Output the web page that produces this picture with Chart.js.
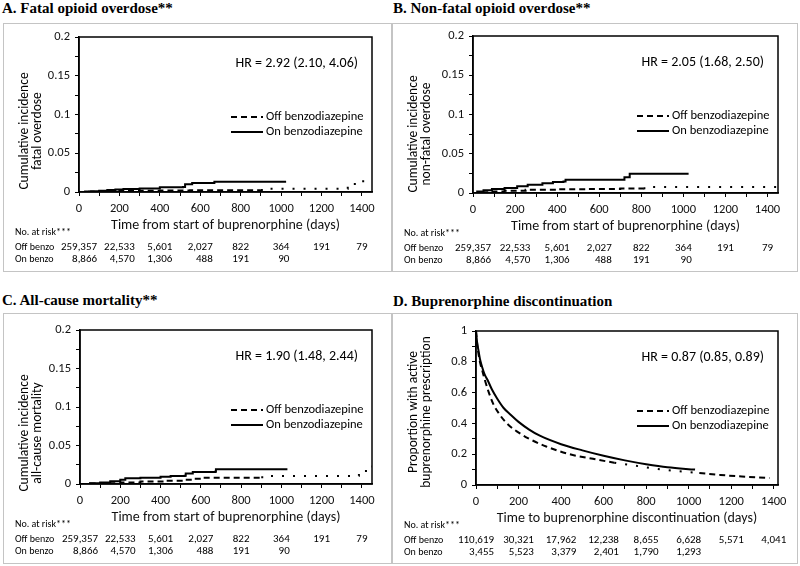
<!DOCTYPE html>
<html>
<head>
<meta charset="utf-8">
<script src="https://cdn.jsdelivr.net/npm/chart.js@4.4.1/dist/chart.umd.min.js"></script>
<style>
  body { margin: 0; background: #fff; }
  #page { position: relative; width: 800px; height: 566px; overflow: hidden; }
  .ttl { position: absolute; font-family: "Liberation Serif", "Times New Roman", serif; font-weight: bold; font-size: 15px; color: #000; white-space: nowrap; line-height: 18px; }
  .frame { position: absolute; border: 1px solid #c4c4c4; box-sizing: border-box; pointer-events: none; }
  canvas { position: absolute; }
</style>
</head>
<body>
<div id="page">
  <div class="ttl" style="left:2px;top:-1px">A. Fatal opioid overdose**</div>
  <div class="ttl" style="left:393px;top:-1px">B. Non-fatal opioid overdose**</div>
  <div class="ttl" style="left:2px;top:291px">C. All-cause mortality**</div>
  <div class="ttl" style="left:393px;top:292px">D. Buprenorphine discontinuation</div>
  <canvas id="cA"></canvas>
  <canvas id="cB"></canvas>
  <canvas id="cC"></canvas>
  <canvas id="cD"></canvas>
</div>
<script>
// ====================== DATA ======================
const riskDays = [0, 200, 400, 600, 800, 1000, 1200, 1400];

// A. Fatal opioid overdose (cumulative incidence, step curves)
const fatalOffDays = [0, 50, 100, 200, 300, 400, 550, 900, 940, 1320, 1330, 1365, 1450];
const fatalOffInc  = [0, 0.0004, 0.0008, 0.0013, 0.0017, 0.002, 0.0024, 0.0026, 0.0043, 0.0043, 0.007, 0.0138, 0.0138];
const fatalOnDays  = [0, 30, 60, 100, 140, 180, 220, 300, 400, 515, 525, 560, 670, 1025];
const fatalOnInc   = [0, 0.0005, 0.001, 0.0017, 0.0025, 0.0032, 0.0039, 0.0045, 0.006, 0.0065, 0.0099, 0.0116, 0.0133, 0.0133];

// B. Non-fatal opioid overdose
const nonfatalOffDays = [0, 30, 80, 150, 250, 400, 550, 700, 810, 825, 1450];
const nonfatalOffInc  = [0, 0.001, 0.002, 0.003, 0.004, 0.0048, 0.0052, 0.0058, 0.0062, 0.0078, 0.0082];
const nonfatalOnDays  = [0, 20, 50, 90, 150, 210, 260, 330, 380, 430, 440, 715, 720, 745, 1025];
const nonfatalOnInc   = [0, 0.002, 0.0035, 0.005, 0.0065, 0.0085, 0.0105, 0.0125, 0.014, 0.0145, 0.017, 0.017, 0.02, 0.0245, 0.0245];

// C. All-cause mortality
const deathOffDays = [0, 50, 100, 200, 300, 420, 520, 560, 600, 900, 920, 1370, 1385, 1420, 1450];
const deathOffInc  = [0, 0.0005, 0.001, 0.002, 0.0032, 0.0043, 0.0055, 0.0068, 0.0082, 0.0088, 0.0104, 0.0108, 0.0148, 0.0226, 0.0226];
const deathOnDays  = [0, 50, 100, 150, 200, 225, 300, 400, 450, 520, 525, 560, 670, 675, 1030];
const deathOnInc   = [0, 0.001, 0.002, 0.0035, 0.0055, 0.0075, 0.008, 0.0095, 0.0105, 0.0108, 0.0135, 0.0155, 0.0158, 0.019, 0.019];

// D. Buprenorphine discontinuation (proportion still on prescription)
const discOffDays = [0, 5, 12, 20, 30, 42, 58, 80, 110, 145, 190, 250, 330, 440, 550, 650, 750, 850, 950, 1050, 1150, 1250, 1380];
const discOffProp = [1, 0.92, 0.85, 0.79, 0.74, 0.68, 0.61, 0.53, 0.46, 0.4, 0.35, 0.3, 0.25, 0.2, 0.17, 0.145, 0.125, 0.105, 0.09, 0.078, 0.065, 0.055, 0.045];
const discOnDays  = [0, 5, 12, 20, 28, 40, 55, 75, 100, 130, 160, 200, 250, 300, 400, 500, 600, 700, 800, 900, 1030];
const discOnProp  = [1, 0.93, 0.87, 0.81, 0.77, 0.72, 0.68, 0.62, 0.56, 0.5, 0.46, 0.41, 0.36, 0.32, 0.265, 0.225, 0.19, 0.16, 0.135, 0.115, 0.1];

// numbers at risk
const startOffRisk = ["259,357", "22,533", "5,601", "2,027", "822", "364", "191", "79"];
const startOnRisk  = ["8,866", "4,570", "1,306", "488", "191", "90"];
const discOffRisk  = ["110,619", "30,321", "17,962", "12,238", "8,655", "6,628", "5,571", "4,041"];
const discOnRisk   = ["3,455", "5,523", "3,379", "2,401", "1,790", "1,293"];

// ====================== PANELS ======================
const SANS = "Carlito, Lato, sans-serif";
const XH = 42; // height of x scale (ticks + title)

const panels = [
  { id: "cA", box: [3, 23, 392, 272], plot: [79, 37, 372, 192], yTitleY: 131,
    xMax: 1450, yMax: 0.2, yMinor: 0.025, yMajor: 0.05, stepped: true, dotFrom: 900,
    off: [fatalOffDays, fatalOffInc], on: [fatalOnDays, fatalOnInc],
    hr: "HR = 2.92 (2.10, 4.06)", yTitle: ["Cumulative incidence", "fatal overdose"],
    xTitle: "Time from start of buprenorphine (days)", offRisk: startOffRisk, onRisk: startOnRisk },
  { id: "cB", box: [392, 23, 798, 272], plot: [473, 36, 778, 193], yTitleY: 134,
    xMax: 1450, yMax: 0.2, yMinor: 0.025, yMajor: 0.05, stepped: true, dotFrom: 810,
    off: [nonfatalOffDays, nonfatalOffInc], on: [nonfatalOnDays, nonfatalOnInc],
    hr: "HR = 2.05 (1.68, 2.50)", yTitle: ["Cumulative incidence", "non-fatal overdose"],
    xTitle: "Time from start of buprenorphine (days)", offRisk: startOffRisk, onRisk: startOnRisk },
  { id: "cC", box: [3, 313, 392, 564], plot: [80, 330, 372, 484], yTitleY: 433,
    xMax: 1450, yMax: 0.2, yMinor: 0.025, yMajor: 0.05, stepped: true, dotFrom: 900,
    off: [deathOffDays, deathOffInc], on: [deathOnDays, deathOnInc],
    hr: "HR = 1.90 (1.48, 2.44)", yTitle: ["Cumulative incidence", "all-cause mortality"],
    xTitle: "Time from start of buprenorphine (days)", offRisk: startOffRisk, onRisk: startOnRisk },
  { id: "cD", box: [392, 313, 798, 564], plot: [476, 331, 778, 485], yTitleY: 412,
    xMax: 1420, yMax: 1, yMinor: 0.1, yMajor: 0.2, stepped: false, dotFrom: 620, dotTo: 1000,
    off: [discOffDays, discOffProp], on: [discOnDays, discOnProp],
    hr: "HR = 0.87 (0.85, 0.89)", yTitle: ["Proportion with active", "buprenorphine prescription"],
    xTitle: "Time to buprenorphine discontinuation (days)", offRisk: discOffRisk, onRisk: discOnRisk }
];

function pts(xs, ys) {
  return xs.map((x, i) => ({ x: x, y: ys[i] }));
}

function isMajor(v, step) {
  const r = v / step;
  return Math.abs(r - Math.round(r)) < 1e-6;
}

// HR label, legend, rotated y title and the at-risk table
function decor(p) {
  return {
    id: "decor",
    afterDraw(chart) {
      const { ctx, chartArea: a } = chart;
      const x = chart.scales.x;
      ctx.save();
      ctx.strokeStyle = "#000";
      ctx.lineWidth = 1.5;
      ctx.strokeRect(a.left, a.top, a.right - a.left, a.bottom - a.top);

      ctx.fillStyle = "#000";
      ctx.textBaseline = "middle";
      ctx.font = "14px " + SANS;
      ctx.textAlign = "right";
      ctx.fillText(p.hr, a.right - 14, a.top + 26);

      // legend
      const lx = a.right - 106;
      ctx.font = "12.5px " + SANS;
      ctx.textAlign = "left";
      [["Off benzodiazepine", [6, 4]], ["On benzodiazepine", []]].forEach(([t, dash], i) => {
        const ly = a.top + 80 + i * 15;
        ctx.lineWidth = 2;
        ctx.setLineDash(dash);
        ctx.beginPath();
        ctx.moveTo(lx - 35, ly);
        ctx.lineTo(lx - 3, ly);
        ctx.stroke();
        ctx.setLineDash([]);
        ctx.fillText(t, lx, ly);
      });

      // y title (two lines)
      ctx.save();
      ctx.translate(22, p.yTitleY - p.box[1]);
      ctx.rotate(-Math.PI / 2);
      ctx.font = "13.5px " + SANS;
      ctx.textAlign = "center";
      ctx.fillText(p.yTitle[0], 0, 0);
      ctx.fillText(p.yTitle[1], 0, 13);
      ctx.restore();

      // numbers at risk
      const y0 = a.bottom + 40;
      ctx.font = "10px " + SANS;
      ctx.textAlign = "left";
      ctx.fillText("No. at risk***", 12, y0);
      ctx.fillText("Off benzo", 12, y0 + 15);
      ctx.fillText("On benzo", 12, y0 + 27);
      ctx.font = "11px " + SANS;
      ctx.textAlign = "right";
      p.offRisk.forEach((t, i) => {
        const cx = x.getPixelForValue(riskDays[i]);
        const right = cx + ctx.measureText(t).width / 2;
        ctx.fillText(t, right, y0 + 15);
        if (p.onRisk[i]) ctx.fillText(p.onRisk[i], right, y0 + 27);
      });
      ctx.restore();
    }
  };
}

function makePanel(p) {
  const cv = document.getElementById(p.id);
  const w = p.box[2] - p.box[0];
  const h = p.box[3] - p.box[1];
  cv.width = w;
  cv.height = h;
  cv.style.left = p.box[0] + "px";
  cv.style.top = p.box[1] + "px";

  const frame = document.createElement("div");
  frame.className = "frame";
  frame.style.cssText = `left:${p.box[0]}px;top:${p.box[1]}px;width:${w}px;height:${h}px`;
  document.getElementById("page").appendChild(frame);

  const offDash = (c) => {
    const d = c.p0.parsed.x;
    if (d >= p.dotFrom && (p.dotTo === undefined || d < p.dotTo)) return [2, 9];
    return [6, 4];
  };

  new Chart(cv, {
    type: "line",
    data: {
      datasets: [
        { label: "Off benzodiazepine", data: pts(p.off[0], p.off[1]), borderColor: "#000",
          borderWidth: 2, borderDash: [6, 4], pointRadius: 0, stepped: p.stepped,
          cubicInterpolationMode: "monotone", fill: false, segment: { borderDash: offDash } },
        { label: "On benzodiazepine", data: pts(p.on[0], p.on[1]), borderColor: "#000",
          borderWidth: 2, pointRadius: 0, stepped: p.stepped,
          cubicInterpolationMode: "monotone", fill: false }
      ]
    },
    options: {
      responsive: false,
      animation: false,
      layout: { padding: { left: 0, top: p.plot[1] - p.box[1], right: p.box[2] - p.plot[2],
                           bottom: p.box[3] - p.plot[3] - XH } },
      plugins: { legend: { display: false }, tooltip: { enabled: false } },
      scales: {
        x: {
          type: "linear", min: 0, max: p.xMax,
          border: { display: true, color: "#000", width: 1.5 },
          grid: { drawOnChartArea: false, tickLength: 4, color: "#000" },
          ticks: { stepSize: 100, includeBounds: false, autoSkip: false, maxRotation: 0, padding: 5,
                   color: "#111", font: { family: SANS, size: 12.5 },
                   callback: (v) => (v % 200 === 0 ? String(v) : "") },
          title: { display: true, text: p.xTitle, color: "#111", padding: 0,
                   font: { family: SANS, size: 14 } },
          afterFit: (s) => { s.height = XH; }
        },
        y: {
          min: 0, max: p.yMax,
          border: { display: true, color: "#000", width: 1.5 },
          grid: { drawOnChartArea: false, tickLength: 4, color: "#000" },
          ticks: { stepSize: p.yMinor, autoSkip: false, padding: 5, color: "#111",
                   font: { family: SANS, size: 12.5 },
                   callback: (v) => (isMajor(v, p.yMajor) ? String(Number(v.toFixed(3))) : "") },
          afterFit: (s) => { s.width = p.plot[0] - p.box[0]; }
        }
      }
    },
    plugins: [decor(p)]
  });
}

panels.forEach(makePanel);
</script>
</body>
</html>
